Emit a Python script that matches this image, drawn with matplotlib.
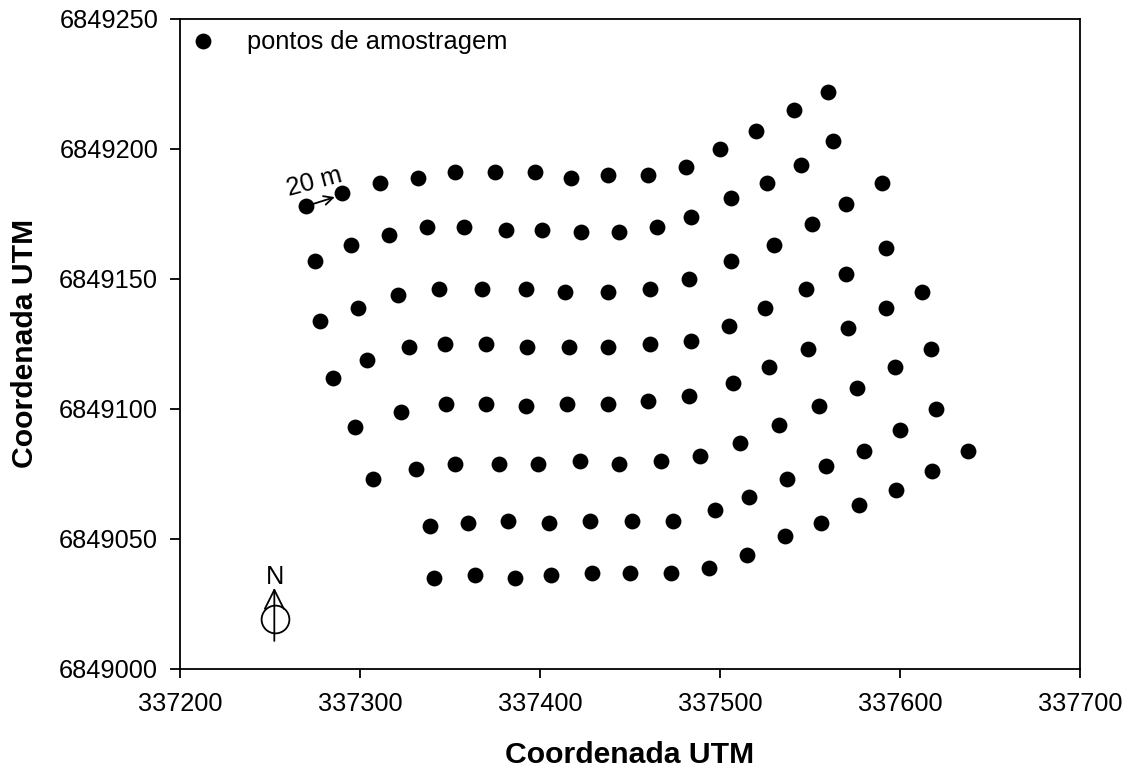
import matplotlib
matplotlib.use("Agg")
import matplotlib.pyplot as plt

plt.rcParams['font.family'] = ['Liberation Sans', 'DejaVu Sans']

X0 = 337000
Y0 = 6849000
row1_x = [270, 290, 311, 332, 353, 375, 397, 417, 438, 460, 481, 500, 520, 541, 560]
row1_y = [178, 183, 187, 189, 191, 191, 191, 189, 190, 190, 193, 200, 207, 215, 222]
row2_x = [275, 295, 316, 337, 358, 381, 401, 423, 444, 465, 484, 506, 526, 545, 563]
row2_y = [157, 163, 167, 170, 170, 169, 169, 168, 168, 170, 174, 181, 187, 194, 203]
row3_x = [278, 299, 321, 344, 368, 392, 414, 438, 461, 483, 506, 530, 551, 570, 590]
row3_y = [134, 139, 144, 146, 146, 146, 145, 145, 146, 150, 157, 163, 171, 179, 187]
row4_x = [285, 304, 327, 347, 370, 393, 416, 438, 461, 484, 505, 525, 548, 570, 592]
row4_y = [112, 119, 124, 125, 125, 124, 124, 124, 125, 126, 132, 139, 146, 152, 162]
row5_x = [297, 323, 348, 370, 392, 415, 438, 460, 483, 507, 527, 549, 571, 592, 612]
row5_y = [93, 99, 102, 102, 101, 102, 102, 103, 105, 110, 116, 123, 131, 139, 145]
row6_x = [307, 331, 353, 377, 399, 422, 444, 467, 489, 511, 533, 555, 576, 597, 617]
row6_y = [73, 77, 79, 79, 79, 80, 79, 80, 82, 87, 94, 101, 108, 116, 123]
row7_x = [339, 360, 382, 405, 428, 451, 474, 497, 516, 537, 559, 580, 600, 620]
row7_y = [55, 56, 57, 56, 57, 57, 57, 61, 66, 73, 78, 84, 92, 100]
row8_x = [341, 364, 386, 406, 429, 450, 473, 494, 515, 536, 556, 577, 598, 618, 638]
row8_y = [35, 36, 35, 36, 37, 37, 37, 39, 44, 51, 56, 63, 69, 76, 84]
rows_x = [row1_x, row2_x, row3_x, row4_x, row5_x, row6_x, row7_x, row8_x]
rows_y = [row1_y, row2_y, row3_y, row4_y, row5_y, row6_y, row7_y, row8_y]
x_ticks = [337200, 337300, 337400, 337500, 337600, 337700]
y_ticks = [6849000, 6849050, 6849100, 6849150, 6849200, 6849250]
legend_label = "pontos de amostragem"
axis_label = "Coordenada UTM"

W, H = 1136, 774
fig = plt.figure(figsize=(W / 100, H / 100), dpi=100)
ax = fig.add_axes([180 / W, 1 - 669 / H, 900 / W, 650 / H])

xs = [X0 + v for r in rows_x for v in r]
ys = [Y0 + v for r in rows_y for v in r]
ax.scatter(xs, ys, s=130, c="black", linewidths=0, clip_on=False, zorder=3)

ax.set_xlim(337200, 337700)
ax.set_ylim(6849000, 6849250)
ax.set_xticks(x_ticks)
ax.set_yticks(y_ticks)
ax.set_xticklabels([str(v) for v in x_ticks])
ax.set_yticklabels([str(v) for v in y_ticks])
ax.tick_params(axis="x", direction="out", length=6.8, width=1.3, labelsize=18.3, pad=10)
ax.tick_params(axis="y", direction="out", length=7.2, width=1.3, labelsize=18.3, pad=8.5)
for s in ax.spines.values():
    s.set_linewidth(1.3)
fig.text(630 / W, 1 - 755 / H, axis_label, fontsize=21.7, fontweight="bold", ha="center", va="center")
fig.text(25 / W, 1 - 343 / H, axis_label, fontsize=21.7, fontweight="bold", ha="center", va="center", rotation=90)

# legend
ax.scatter([337212.8], [6849241.7], s=130, c="black", linewidths=0)
ax.text(337237, 6849238.3, legend_label, fontsize=18.3, va="baseline", ha="left")

# 20 m annotation
ax.annotate("", xy=(337286, 6849181.5), xytext=(337270, 6849178),
            arrowprops=dict(arrowstyle="->", lw=1.3, color="black", shrinkA=0, shrinkB=0, mutation_scale=16))
ax.text(337274.4, 6849187.3, "20 m", fontsize=18.3, rotation=15, ha="center", va="center", rotation_mode="anchor")

# north symbol
ax.annotate("", xy=(337252.4, 6849031.2), xytext=(337252.4, 6849010.8),
            arrowprops=dict(arrowstyle="->", lw=1.3, color="black", shrinkA=0, shrinkB=0, mutation_scale=34))
ax.text(337252.6, 6849035.4, "N", fontsize=18.3, ha="center", va="center")
ax.plot([337252.6], [6849019.4], marker="o", ms=20, mfc="none", mec="black", mew=1.3, ls="none")

fig.savefig("out.png", dpi=100)
